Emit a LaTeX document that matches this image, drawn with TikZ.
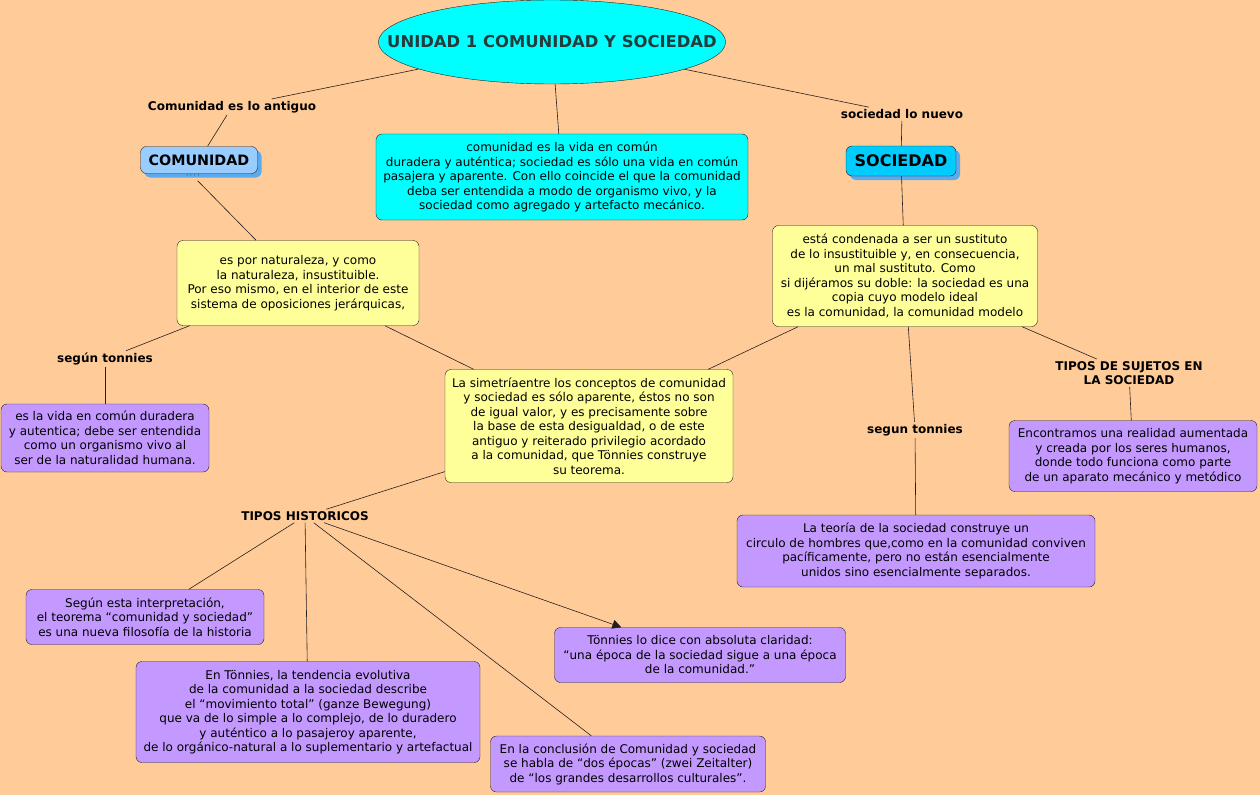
\documentclass[tikz,border=0pt]{standalone}
\usepackage{fontspec}
\setmainfont{DejaVu Sans}
\usepackage{tikz}
\usetikzlibrary{arrows.meta,positioning,shapes.geometric,shadows}
\definecolor{peach}{RGB}{255,204,153}
\definecolor{cyanbox}{RGB}{0,255,255}
\definecolor{yellowbox}{RGB}{255,255,153}
\definecolor{lilac}{RGB}{196,153,255}
\definecolor{comblue}{RGB}{153,204,255}
\definecolor{socblue}{RGB}{0,204,255}
\definecolor{shadeblue}{RGB}{90,170,240}
\definecolor{titletext}{RGB}{35,60,60}
\definecolor{edge}{RGB}{40,30,30}

\begin{document}
\begin{tikzpicture}[
  x=1pt,y=-1pt,
  font=\fontsize{12}{14.5}\selectfont,
  box/.style={draw=edge,rounded corners=6pt,align=center,inner sep=2pt},
  cyanb/.style={box,fill=cyanbox},
  yellowb/.style={box,fill=yellowbox},
  lilacb/.style={box,fill=lilac},
  concept/.style={box,font=\fontsize{14.3}{16}\selectfont\bfseries,
    drop shadow={shadow xshift=4pt,shadow yshift=-4pt,fill=shadeblue,opacity=1}},
  link/.style={font=\fontsize{12}{14.5}\selectfont\bfseries,align=center,inner sep=2pt},
  line/.style={draw=edge,semithick}
]
\useasboundingbox[fill=peach] (0,0) rectangle (1260,795);

\node[ellipse,draw=edge,fill=cyanbox,minimum width=346,minimum height=84,
  inner xsep=-42pt,inner ysep=0pt,
  text=titletext,font=\fontsize{16.4}{18}\selectfont\bfseries] (title) at (552,42)
  {UNIDAD 1 COMUNIDAD Y SOCIEDAD};

\node[link] (antiguo) at (232,107) {Comunidad es lo antiguo};
\node[concept,fill=comblue,minimum width=117,minimum height=27] (comunidad) at (199,160) {COMUNIDAD};
\node[font=\fontsize{6}{6}\selectfont] (dots) at (193,176) {· · · ·};

\node[cyanb,minimum width=372,minimum height=86] (vida) at (562,177)
  {comunidad es la vida en común\\
   duradera y auténtica; sociedad es sólo una vida en común\\
   pasajera y aparente. Con ello coincide el que la comunidad\\
   deba ser entendida a modo de organismo vivo, y la\\
   sociedad como agregado y artefacto mecánico.};

\node[link] (nuevo) at (902,114) {sociedad lo nuevo};
\node[concept,fill=socblue,minimum width=110,minimum height=30,
  font=\fontsize{16}{18}\selectfont\bfseries] (sociedad) at (901,161) {SOCIEDAD};

\node[yellowb,minimum width=242,minimum height=85] (naturaleza) at (298,283)
  {es por naturaleza, y como\\
   la naturaleza, insustituible.\\
   Por eso mismo, en el interior de este\\
   sistema de oposiciones jerárquicas,};

\node[yellowb,minimum width=265,minimum height=101] (sustituto) at (905,276)
  {está condenada a ser un sustituto\\
   de lo insustituible y, en consecuencia,\\
   un mal sustituto. Como\\
   si dijéramos su doble: la sociedad es una\\
   copia cuyo modelo ideal\\
   es la comunidad, la comunidad modelo};

\node[yellowb,minimum width=288,minimum height=113] (simetria) at (589,426)
  {La simetríaentre los conceptos de comunidad\\
   y sociedad es sólo aparente, éstos no son\\
   de igual valor, y es precisamente sobre\\
   la base de esta desigualdad, o de este\\
   antiguo y reiterado privilegio acordado\\
   a la comunidad, que Tönnies construye\\
   su teorema.};

\node[link] (segun) at (105,359) {según tonnies};
\node[lilacb,minimum width=208,minimum height=68] (duradera) at (105,438)
  {es la vida en común duradera\\
   y autentica; debe ser entendida\\
   como un organismo vivo al\\
   ser de la naturalidad humana.};

\node[link] (historicos) at (305,516) {TIPOS HISTORICOS};
\node[lilacb,minimum width=238,minimum height=55] (interpretacion) at (145,617)
  {Según esta interpretación,\\
   el teorema “comunidad y sociedad”\\
   es una nueva filosofía de la historia};
\node[lilacb,minimum width=344,minimum height=101] (tendencia) at (308,712)
  {En Tönnies, la tendencia evolutiva\\
   de la comunidad a la sociedad describe\\
   el “movimiento total” (ganze Bewegung)\\
   que va de lo simple a lo complejo, de lo duradero\\
   y auténtico a lo pasajeroy aparente,\\
   de lo orgánico-natural a lo suplementario y artefactual};
\node[lilacb,minimum width=275,minimum height=56] (conclusion) at (628,764)
  {En la conclusión de Comunidad y sociedad\\
   se habla de “dos épocas” (zwei Zeitalter)\\
   de “los grandes desarrollos culturales”.};
\node[lilacb,minimum width=291,minimum height=55] (claridad) at (700,655)
  {Tönnies lo dice con absoluta claridad:\\
   “una época de la sociedad sigue a una época\\
   de la comunidad.”};

\node[link] (segun2) at (915,430) {segun tonnies};
\node[lilacb,minimum width=358,minimum height=72] (teoria) at (916,551)
  {La teoría de la sociedad construye un\\
   circulo de hombres que,como en la comunidad conviven\\
   pacíficamente, pero no están esencialmente\\
   unidos sino esencialmente separados.};

\node[link] (sujetos) at (1129,373) {TIPOS DE SUJETOS EN\\LA SOCIEDAD};
\node[lilacb,minimum width=248,minimum height=71] (aumentada) at (1133,456)
  {Encontramos una realidad aumentada\\
   y creada por los seres humanos,\\
   donde todo funciona como parte\\
   de un aparato mecánico y metódico};

\draw[line] (title) -- (antiguo);
\draw[line] (antiguo) -- (comunidad);
\draw[line] (title) -- (vida);
\draw[line] (title) -- (nuevo);
\draw[line] (nuevo) -- (sociedad);
\draw[line] (dots) -- (naturaleza);
\draw[line] (sociedad) -- (sustituto);
\draw[line] (naturaleza) -- (segun);
\draw[line] (segun) -- (duradera);
\draw[line] (naturaleza) -- (simetria);
\draw[line] (sustituto) -- (simetria);
\draw[line] (sustituto) -- (segun2);
\draw[line] (segun2) -- (teoria);
\draw[line] (sustituto) -- (sujetos);
\draw[line] (sujetos) -- (aumentada);
\draw[line] (simetria) -- (historicos);
\draw[line] (historicos) -- (interpretacion);
\draw[line] (historicos) -- (tendencia);
\draw[line] (historicos) -- (conclusion);
\draw[line,-{Triangle[length=9pt,width=9pt]}] (historicos) -- (claridad);
\end{tikzpicture}
\end{document}
